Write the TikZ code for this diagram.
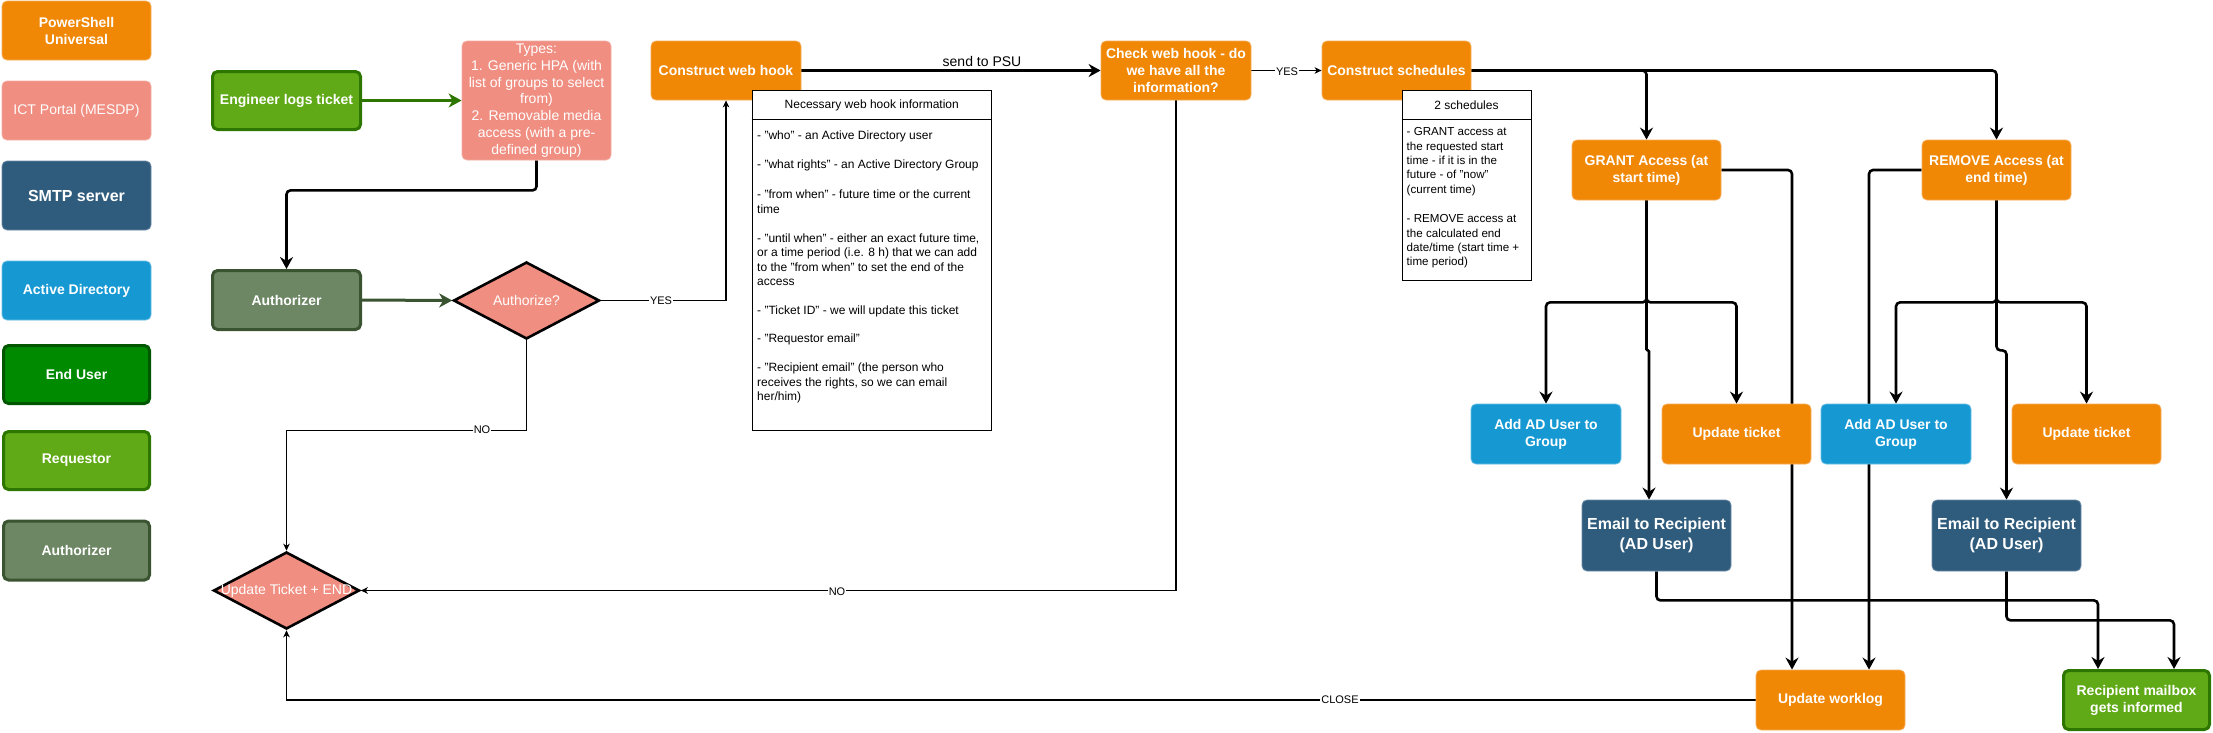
\documentclass[tikz,border=0pt]{standalone}
\usepackage{fontspec}
\setmainfont{Liberation Sans}
\usetikzlibrary{arrows.meta,shapes.geometric}
\newcommand\fsz[2]{\fontsize{#1}{#2}\selectfont}
\definecolor{cOrange}{HTML}{F08705}
\definecolor{cOrangeB}{HTML}{F6AE5A}
\definecolor{cSalmon}{HTML}{F08E81}
\definecolor{cSalmonB}{HTML}{F5ACA2}
\definecolor{cDark}{HTML}{2F5B7C}
\definecolor{cDarkB}{HTML}{6C8CA6}
\definecolor{cBlue}{HTML}{1699D3}
\definecolor{cBlueB}{HTML}{67BDE4}
\definecolor{cEnd}{HTML}{008A00}
\definecolor{cEndB}{HTML}{005700}
\definecolor{cReq}{HTML}{60A917}
\definecolor{cReqB}{HTML}{2D7600}
\definecolor{cAuth}{HTML}{6D8764}
\definecolor{cAuthB}{HTML}{3A5431}
\pgfdeclarelayer{bg}
\pgfsetlayers{bg,main}
\begin{document}
\begin{tikzpicture}[x=1pt,y=-1pt,
  box/.style={rectangle, rounded corners=5pt, minimum width=149pt, minimum height=60pt,
    align=center, text=white, inner sep=1pt, font=\bfseries\fsz{14}{17}},
  obox/.style={box, fill=cOrange, draw=cOrangeB, line width=0.8pt},
  sbox/.style={box, fill=cSalmon, draw=cSalmonB, line width=0.8pt, font=\fsz{14}{16.8}},
  dbox/.style={box, fill=cDark, draw=cDarkB, line width=0.8pt},
  bbox/.style={box, fill=cBlue, draw=cBlueB, line width=0.8pt},
  ebox/.style={box, fill=cEnd, draw=cEndB, line width=3pt, minimum width=146pt, minimum height=58pt},
  rbox/.style={box, fill=cReq, draw=cReqB, line width=3pt, minimum width=146pt, minimum height=58pt},
  abox/.style={box, fill=cAuth, draw=cAuthB, line width=3pt, minimum width=146pt, minimum height=59pt},
  dia/.style={diamond, draw=black, line width=2.6pt, fill=cSalmon, text=white, inner sep=0pt,
    minimum width=146pt, minimum height=77pt, font=\fsz{14}{17}},
  lbl/.style={fill=white, inner sep=1pt, font=\fsz{11}{13}},
  karrow/.style={line width=2.6pt, rounded corners=4pt, -{Stealth[length=12pt,width=13pt,inset=4pt]}},
  garrow/.style={line width=3pt, -{Stealth[length=13pt,width=14pt,inset=4pt]}},
  tarrow/.style={line width=1.2pt, -{Stealth[length=7pt,width=6.5pt,inset=2pt]}},
  tab/.style={draw=black, fill=white, line width=1pt, inner sep=0pt},
  tabtxt/.style={font=\fsz{12}{14.5}, align=left, inner xsep=5pt, inner ysep=0pt, anchor=north west}
]
\useasboundingbox (0,0) rectangle (2213,732);

% legend
\node[obox, minimum height=59pt] (lpsu) at (76.5,30.5) {PowerShell\\Universal};
\node[sbox, minimum height=59pt] (lict) at (76.5,110.5) {ICT Portal (MESDP)};
\node[dbox, minimum height=69pt, font=\bfseries\fsz{16}{19}] (lsmtp) at (76.5,195.5) {SMTP server};
\node[bbox, minimum height=59pt] (lad) at (76.5,290.5) {Active Directory};
\node[ebox] (leu) at (76.5,374.5) {End User};
\node[rbox] (lreq) at (76.5,460.5) {Requestor};
\node[abox] (lauth) at (76.5,550.5) {Authorizer};

% main flow
\node[rbox, minimum width=148pt] (eng) at (286.5,100.5) {Engineer logs ticket};
\node[sbox, minimum height=119pt] (types) at (536.5,100.5) {Types:\\1. Generic HPA (with\\list of groups to select\\from)\\2. Removable media\\access (with a pre-\\defined group)};
\node[abox, minimum width=148pt] (auth) at (286.5,300) {Authorizer};
\node[dia] (az) at (526.5,300.5) {\makebox[0pt]{Authorize?}};
\node[dia] (ut) at (286.5,590.5) {\makebox[0pt]{Update Ticket + END}};

\node[obox, minimum width=150pt, minimum height=59pt] (cwh) at (726,70.5) {Construct web hook};
\node[obox, minimum width=150pt, minimum height=59pt] (ch) at (1176,70.5) {Check web hook - do\\we have all the\\information?};
\node[obox, minimum height=59pt] (cs) at (1396.5,70.5) {Construct schedules};

\node[obox] (g) at (1646.5,170) {GRANT Access (at\\start time)};
\node[obox] (r) at (1996.5,170) {REMOVE Access (at\\end time)};
\node[bbox, minimum width=150pt] (a1) at (1546,434) {Add AD User to\\Group};
\node[obox] (u1) at (1736.5,434) {Update ticket};
\node[bbox, minimum width=150pt] (a2) at (1896,434) {Add AD User to\\Group};
\node[obox] (u2) at (2086.5,434) {Update ticket};
\node[dbox, minimum height=71pt, font=\bfseries\fsz{16}{20.5}] (e1) at (1656.5,535.5) {Email to Recipient\\(AD User)};
\node[dbox, minimum height=71pt, font=\bfseries\fsz{16}{20.5}] (e2) at (2006.5,535.5) {Email to Recipient\\(AD User)};
\node[obox] (uw) at (1830.5,700) {Update worklog};
\node[rbox, minimum width=146pt, minimum height=59pt] (mb) at (2136.5,700) {Recipient mailbox\\gets informed};

% tables
\node[tab, minimum width=239.5pt, minimum height=340pt] (wht) at (871.75,260) {};
\draw[line width=1pt] ([yshift=-30pt]wht.north west) -- ([yshift=-30pt]wht.north east);
\node[font=\fsz{12}{14}] (whth) at (871.75,105) {Necessary web hook information};
\node[tabtxt] (whtb) at (752,130.5) {- "who" - an Active Directory user\\[14.5pt]
- "what rights" - an Active Directory Group\\[16pt]
- "from when" - future time or the current\\time\\[14.5pt]
- "until when" - either an exact future time,\\or a time period (i.e. 8 h) that we can add\\to the "from when" to set the end of the\\access\\[14.5pt]
- "Ticket ID" - we will update this ticket\\[13.5pt]
- "Requestor email"\\[14.5pt]
- "Recipient email" (the person who\\receives the rights, so we can email\\her/him)};

\node[tab, minimum width=129pt, minimum height=190pt] (sct) at (1466.5,185) {};
\draw[line width=1pt] ([yshift=-30pt]sct.north west) -- ([yshift=-30pt]sct.north east);
\node[font=\fsz{12}{14}] (scth) at (1466.5,105) {2 schedules};
\node[tabtxt, inner xsep=4.5pt, font=\fsz{11.6}{14.3}] (sctb) at (1402,127.5) {- GRANT access at\\the requested start\\time - if it is in the\\future - of "now"\\(current time)\\[15.5pt]
- REMOVE access at\\the calculated end\\date/time (start time +\\time period)};

% connectors
\begin{pgfonlayer}{bg}
\draw[garrow, draw=cReqB] (eng.east) -- (types.west);
\draw[karrow] (types.south) -- ++(0,30) -| (auth.north);
\draw[garrow, draw=cAuthB] (auth.east) -- (az.west);
\draw[tarrow] (az.east) -| (cwh.south);
\draw[tarrow] (az.south) -- ++(0,90) -| (ut.north);
\draw[karrow] (cwh.east) -- (ch.west);
\draw[tarrow] (ch.east) -- (cs.west);
\draw[tarrow] (ch.south) |- (ut.east);
\draw[tarrow] (uw.west) -| (ut.south);
\draw[karrow] (cs.east) -| (g.north);
\draw[karrow] (cs.east) -| (r.north);
\draw[karrow] (g.east) -| ([xshift=-38.5pt]uw.north);
\draw[karrow] (r.west) -| ([xshift=38.5pt]uw.north);
\draw[karrow] (g.south) -- ++(0,102) -| (a1.north);
\draw[karrow] (g.south) -- ++(0,102) -| (u1.north);
\draw[karrow, rounded corners=1pt] (g.south) -- ++(0,150) -| ([xshift=-7.5pt]e1.north);
\draw[karrow] (r.south) -- ++(0,102) -| (a2.north);
\draw[karrow] (r.south) -- ++(0,102) -| (u2.north);
\draw[karrow] (r.south) -- ++(0,150) -| (e2.north);
\draw[karrow] (e1.south) -- ++(0,29) -| ([xshift=-38.5pt]mb.north);
\draw[karrow] (e2.south) -- ++(0,49) -| ([xshift=37.5pt]mb.north);
\end{pgfonlayer}

% connector labels
\node[lbl] (lyes1) at (661,300.5) {YES};
\node[lbl] (lno1) at (482,430) {NO};
\node[font=\fsz{14}{16}] (lsend) at (982,61) {send to PSU};
\node[lbl] (lyes2) at (1287,72) {YES};
\node[lbl] (lno2) at (837,592) {NO};
\node[lbl] (lclose) at (1340,700) {CLOSE};
\end{tikzpicture}
\end{document}
